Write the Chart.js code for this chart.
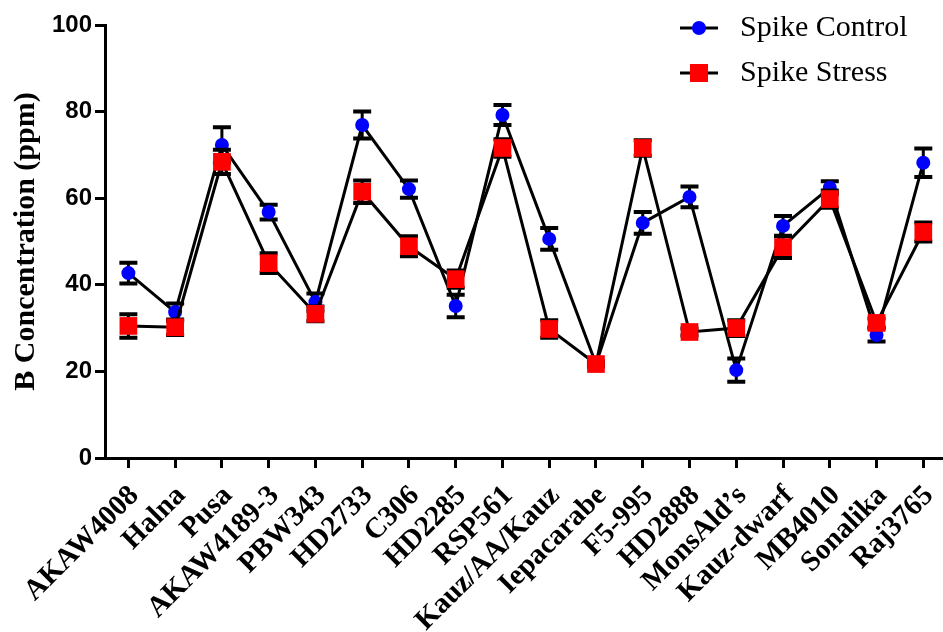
<!DOCTYPE html>
<html>
<head>
<meta charset="utf-8">
<title>B Concentration</title>
<script src="https://cdn.jsdelivr.net/npm/chart.js@4"></script>
<style>
  html, body { margin: 0; padding: 0; background: #fff; }
  #wrap { width: 943px; height: 632px; position: relative; }
</style>
</head>
<body>
<div id="wrap"><canvas id="chart"></canvas></div>
<script>
  // Genotypes along the x axis
  const genotypes = ['AKAW4008', 'Halna', 'Pusa', 'AKAW4189-3', 'PBW343', 'HD2733', 'C306',
    'HD2285', 'RSP561', 'Kauz/AA/Kauz', 'Iepacarabe', 'F5-995', 'HD2888', 'MonsAld\u2019s',
    'Kauz-dwarf', 'MB4010', 'Sonalika', 'Raj3765'];

  // Means and error
  const controlMean = [42.7, 33.7, 72.3, 56.8, 36.0, 76.9, 62.1, 35.1, 79.2, 50.6, 21.7, 54.3, 60.3, 20.3, 53.6, 62.4, 28.4, 68.2];
  const controlErr = [2.4, 2.0, 4.1, 1.7, 2.0, 3.1, 2.0, 2.6, 2.3, 2.5, 0.5, 2.5, 2.4, 2.7, 2.3, 1.5, 1.5, 3.3];
  const stressMean = [30.5, 30.2, 68.4, 45.0, 33.3, 61.5, 48.9, 41.3, 71.6, 29.8, 21.7, 71.6, 29.1, 30.0, 48.7, 59.8, 31.2, 52.2];
  const stressErr = [2.7, 1.8, 2.8, 2.3, 1.7, 2.6, 2.3, 2.0, 2.0, 2.0, 0.5, 1.8, 0.8, 1.8, 2.5, 2.0, 1.0, 2.2];

  const yTicks = [0, 20, 40, 60, 80, 100];

  const toPoints = arr => arr.map((v, i) => ({ x: i, y: v }));

  // Draw error bars for a dataset just before its markers go down
  const errorBars = {
    id: 'errorBars',
    beforeDatasetDraw(chart, args) {
      const ds = chart.data.datasets[args.index];
      if (!ds.errors) return;
      const { ctx, scales: { x, y } } = chart;
      ctx.save();
      ctx.strokeStyle = '#000';
      ds.data.forEach((p, i) => {
        const err = ds.errors[i];
        const px = x.getPixelForValue(p.x);
        const top = y.getPixelForValue(p.y + err);
        const bot = y.getPixelForValue(p.y - err);
        ctx.lineWidth = 3;
        ctx.beginPath();
        ctx.moveTo(px, top);
        ctx.lineTo(px, bot);
        ctx.stroke();
        ctx.lineWidth = 4;
        ctx.beginPath();
        ctx.moveTo(px - 9, top);
        ctx.lineTo(px + 9, top);
        ctx.moveTo(px - 9, bot);
        ctx.lineTo(px + 9, bot);
        ctx.stroke();
      });
      ctx.restore();
    }
  };

  // Legend in the top right corner, line + marker style
  const cornerLegend = {
    id: 'cornerLegend',
    afterDraw(chart) {
      const ctx = chart.ctx;
      const rows = [
        { label: 'Spike Control', y: 28, color: '#0000ff', shape: 'circle' },
        { label: 'Spike Stress', y: 73, color: '#ff0000', shape: 'square' }
      ];
      ctx.save();
      rows.forEach(r => {
        ctx.strokeStyle = '#000';
        ctx.lineWidth = 3;
        ctx.beginPath();
        ctx.moveTo(680, r.y);
        ctx.lineTo(718, r.y);
        ctx.stroke();
        ctx.fillStyle = r.color;
        if (r.shape === 'circle') {
          ctx.beginPath();
          ctx.arc(699, r.y, 7, 0, Math.PI * 2);
          ctx.fill();
        } else {
          ctx.fillRect(690, r.y - 9, 18, 18);
        }
        ctx.fillStyle = '#000';
        ctx.font = '30px "Liberation Serif"';
        ctx.textBaseline = 'middle';
        ctx.textAlign = 'left';
        ctx.fillText(r.label, 740, r.y);
      });
      ctx.restore();
    }
  };

  new Chart(document.getElementById('chart'), {
    type: 'line',
    data: {
      datasets: [
        {
          label: 'Spike Control',
          data: toPoints(controlMean),
          errors: controlErr,
          borderColor: '#000',
          borderWidth: 3,
          pointStyle: 'circle',
          pointRadius: 7,
          pointBackgroundColor: '#0000ff',
          pointBorderColor: '#0000ff',
          pointBorderWidth: 0,
          order: 1
        },
        {
          label: 'Spike Stress',
          data: toPoints(stressMean),
          errors: stressErr,
          borderColor: '#000',
          borderWidth: 3,
          pointStyle: 'rect',
          pointRadius: 12.5,
          pointBackgroundColor: '#ff0000',
          pointBorderColor: '#ff0000',
          pointBorderWidth: 0,
          order: 0
        }
      ]
    },
    options: {
      responsive: true,
      maintainAspectRatio: false,
      animation: false,
      layout: { autoPadding: false, padding: { top: 25, right: 1, left: 0, bottom: 0 } },
      plugins: {
        legend: { display: false },
        tooltip: { enabled: false }
      },
      scales: {
        x: {
          type: 'linear',
          min: -0.5,
          max: 17.4,
          afterBuildTicks(scale) {
            scale.ticks = genotypes.map((g, i) => ({ value: i }));
          },
          afterFit(scale) {
            scale.height = 174;
            scale.paddingRight = 0;
            scale.paddingLeft = 0;
          },
          border: { color: '#000', width: 3 },
          grid: { drawOnChartArea: false, drawTicks: true, tickLength: 10, tickWidth: 3, tickColor: '#000' },
          ticks: {
            autoSkip: false,
            minRotation: 45,
            maxRotation: 45,
            padding: 11,
            labelOffset: 6,
            color: '#000',
            font: { family: 'Liberation Serif', weight: 'bold', size: 29 },
            callback: v => genotypes[v]
          }
        },
        y: {
          min: 0,
          max: 100,
          afterBuildTicks(scale) {
            scale.ticks = yTicks.map(v => ({ value: v }));
          },
          afterFit(scale) { scale.width = 105; },
          border: { color: '#000', width: 3 },
          grid: { drawOnChartArea: false, drawTicks: true, tickLength: 10, tickWidth: 3, tickColor: '#000' },
          ticks: {
            padding: 3,
            color: '#000',
            font: { family: 'Liberation Sans', weight: 'bold', size: 24 }
          },
          title: {
            display: true,
            text: 'B Concentration (ppm)',
            color: '#000',
            padding: { top: 8, bottom: 0 },
            font: { family: 'Liberation Serif', weight: 'bold', size: 30 }
          }
        }
      }
    },
    plugins: [errorBars, cornerLegend]
  });
</script>
</body>
</html>
